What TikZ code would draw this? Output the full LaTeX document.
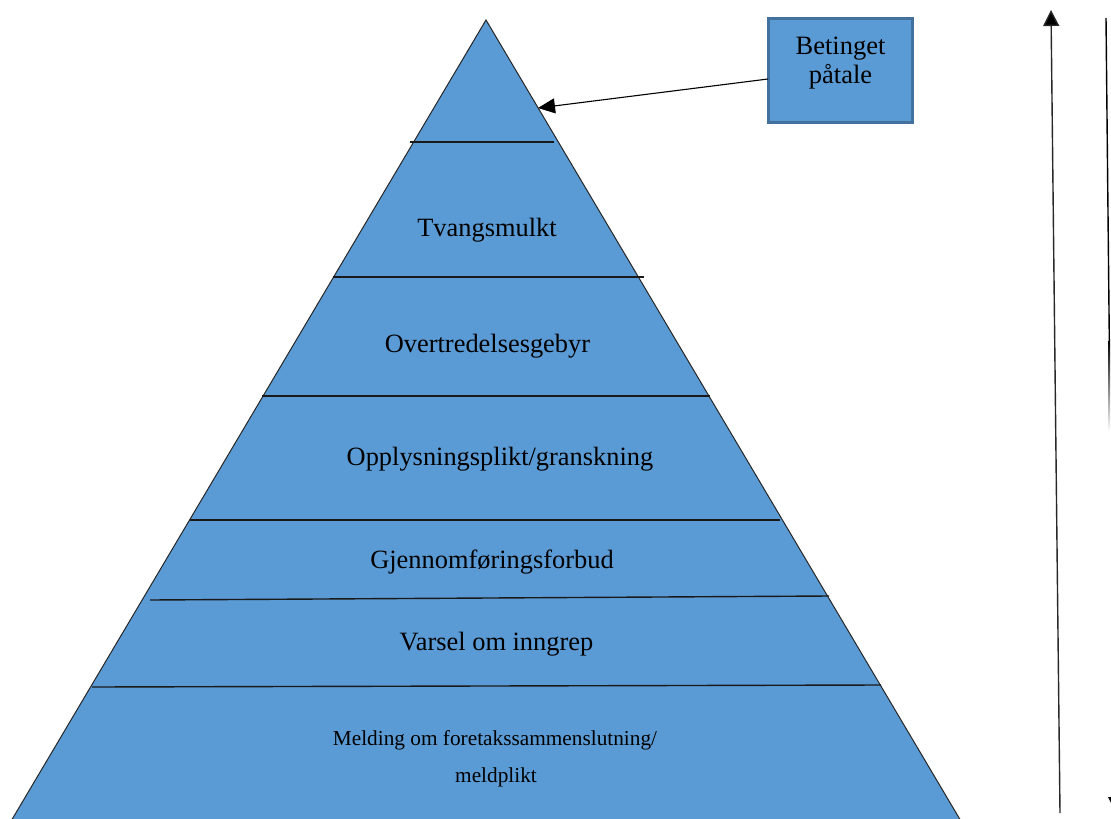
\documentclass[tikz,border=0pt]{standalone}
\usepackage{fontspec}
\setmainfont{Liberation Serif}
\usetikzlibrary{arrows.meta}

\definecolor{pyrblue}{RGB}{91,155,213}
\definecolor{boxedge}{RGB}{65,113,156}
\definecolor{axisgray}{RGB}{40,40,40}

\tikzset{
  pyramid/.style={fill=pyrblue, draw=black!85, line width=1pt},
  divider/.style={draw=black!90, line width=1.4pt},
  layertext/.style={anchor=base, inner sep=0pt, font=\fontsize{26.4}{30}\selectfont},
  smalltext/.style={anchor=base, inner sep=0pt, font=\fontsize{21.3}{25}\selectfont},
  notebox/.style={fill=pyrblue, draw=boxedge, line width=2.5pt,
    minimum width=144pt, minimum height=104pt, inner sep=0pt},
  pointer/.style={draw=black, line width=1.1pt, -{Triangle[length=17pt,width=15pt]}},
  scalearrow/.style={draw=axisgray, line width=1.4pt, -{Triangle[length=16pt,width=16pt,fill=black]}}
}

\begin{document}
\begin{tikzpicture}[x=1pt,y=-1pt]
  \useasboundingbox (0,0) rectangle (1111,819);

  % pyramid outline
  \coordinate (apex) at (486,20);
  \coordinate (baseL) at (10.5,822);
  \coordinate (baseR) at (961.5,822);
  \path[pyramid] (apex) -- (baseR) -- (baseL) -- cycle;

  % dividing lines between the levels
  \coordinate (d1l) at (410,142);  \coordinate (d1r) at (554,142);
  \coordinate (d2l) at (333,277);  \coordinate (d2r) at (644,277);
  \coordinate (d3l) at (262,396);  \coordinate (d3r) at (710,396);
  \coordinate (d4l) at (190,520);  \coordinate (d4r) at (780,520);
  \coordinate (d5l) at (150,600);  \coordinate (d5r) at (829,596);
  \coordinate (d6l) at (92,687);   \coordinate (d6r) at (881,685);
  \draw[divider] (d1l) -- (d1r);
  \draw[divider] (d2l) -- (d2r);
  \draw[divider] (d3l) -- (d3r);
  \draw[divider] (d4l) -- (d4r);
  \draw[divider] (d5l) -- (d5r);
  \draw[divider] (d6l) -- (d6r);

  % level labels
  \node[layertext] (l1) at (487,236) {Tvangsmulkt};
  \node[layertext] (l2) at (487.5,352) {Overtredelsesgebyr};
  \node[layertext] (l3) at (500,465) {Opplysningsplikt/granskning};
  \node[layertext] (l4) at (492,568) {Gjennomføringsforbud};
  \node[layertext] (l5) at (496.5,650) {Varsel om inngrep};
  \node[smalltext] (l6a) at (495,745) {Melding om foretakssammenslutning/};
  \node[smalltext] (l6b) at (496,782) {meldplikt};

  % note box pointing at the top level
  \node[notebox] (box) at (840.5,70.5) {};
  \node[align=center, inner sep=0pt, font=\fontsize{26.5}{29.5}\selectfont] (boxlabel) at (840.5,63) {Betinget\\påtale};
  \coordinate (boxport) at (768,79);
  \coordinate (toptip) at (538,108);
  \draw[pointer] (boxport) -- (toptip);

  % upward scale arrow
  \coordinate (upfoot) at (1060,813);
  \coordinate (uptop) at (1051,10);
  \draw[scalearrow] (upfoot) -- (uptop);

  % downward scale arrow at the edge
  \coordinate (dntop) at (1106,18);
  \coordinate (dnmid) at (1109.3,340);
  \draw[draw=black, line width=1.4pt] (dntop) -- (dnmid);
  \shade[top color=black, bottom color=white] (1108.6,340) rectangle (1110.2,432);
  \fill[black] (1108,797) -- (1124,797) -- (1116,813) -- cycle;
\end{tikzpicture}
\end{document}
